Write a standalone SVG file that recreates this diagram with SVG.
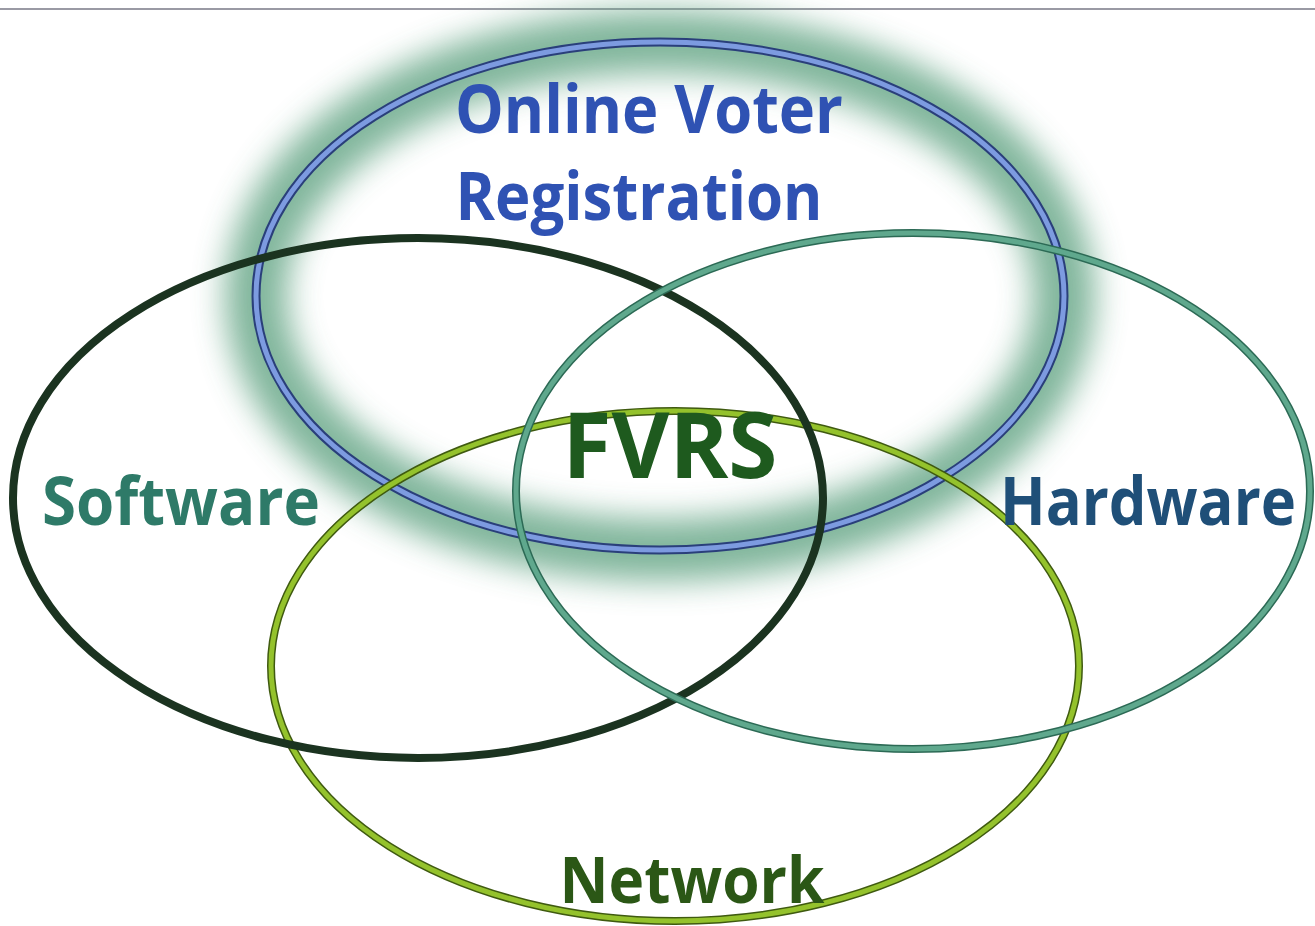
<svg xmlns="http://www.w3.org/2000/svg" width="1315" height="926" viewBox="0 0 1315 926">
<defs>
<filter id="glow" x="-20%" y="-30%" width="140%" height="160%"><feGaussianBlur stdDeviation="16"/></filter>
<style>
.lbl{font-family:"Open Sans","Liberation Sans",sans-serif;font-weight:bold;}
.ring{fill:none;}
</style>
</defs>
<rect width="1315" height="926" fill="#ffffff"/>
<line x1="0" y1="9" x2="1315" y2="9" stroke="#9a9aa4" stroke-width="2"/>
<g id="online-voter-registration">
<ellipse cx="660" cy="296" rx="404" ry="254" class="ring" stroke="#6aa98a" stroke-width="62" opacity="0.85" filter="url(#glow)"/>
<ellipse cx="660" cy="296" rx="404" ry="254" class="ring" stroke="#2a3f7a" stroke-width="9"/>
<ellipse cx="660" cy="296" rx="404" ry="254" class="ring" stroke="#7d9be0" stroke-width="5"/>
<text class="lbl" x="649" y="133" text-anchor="middle" font-size="66" fill="#2f52b3" textLength="388" lengthAdjust="spacingAndGlyphs">Online Voter</text>
<text class="lbl" x="639" y="220" text-anchor="middle" font-size="66" fill="#2f52b3" textLength="367" lengthAdjust="spacingAndGlyphs">Registration</text>
</g>
<g id="network">
<ellipse cx="675" cy="666" rx="404" ry="255" class="ring" stroke="#3f5a10" stroke-width="8"/>
<ellipse cx="675" cy="666" rx="404" ry="255" class="ring" stroke="#94c22c" stroke-width="5"/>
<text class="lbl" x="692" y="903" text-anchor="middle" font-size="64" fill="#2b5716" textLength="265" lengthAdjust="spacingAndGlyphs">Network</text>
</g>
<g id="software">
<ellipse cx="418" cy="498" rx="405" ry="260" class="ring" stroke="#1b3320" stroke-width="8"/>
<text class="lbl" x="181" y="525" text-anchor="middle" font-size="66" fill="#2e7a68" textLength="278" lengthAdjust="spacingAndGlyphs">Software</text>
</g>
<g id="hardware">
<ellipse cx="913" cy="491" rx="397" ry="258" class="ring" stroke="#2c6a55" stroke-width="8"/>
<ellipse cx="913" cy="491" rx="397" ry="258" class="ring" stroke="#5fa88d" stroke-width="5"/>
<text class="lbl" x="1148" y="525" text-anchor="middle" font-size="66" fill="#1f4f78" textLength="296" lengthAdjust="spacingAndGlyphs">Hardware</text>
</g>
<g id="fvrs">
<text class="lbl" x="670" y="478" text-anchor="middle" font-size="92" fill="#1e5a1e" textLength="215" lengthAdjust="spacingAndGlyphs">FVRS</text>
</g>
<g id="connectors"></g>
</svg>
